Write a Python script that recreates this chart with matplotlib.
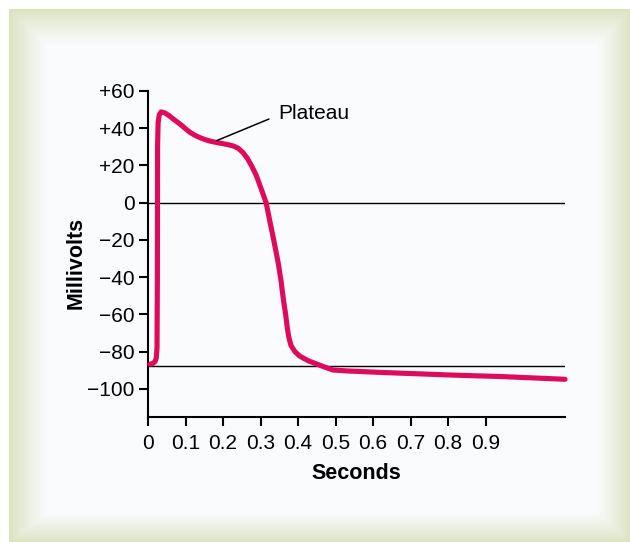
import numpy as np
import matplotlib.pyplot as plt
from matplotlib.colors import to_rgb

plt.rcParams['font.family'] = ['Liberation Sans', 'DejaVu Sans']

# ventricular action potential
seconds = [0.005, 0.013, 0.019, 0.022, 0.024, 0.025, 0.0255, 0.027, 0.030, 0.035,
           0.045, 0.056, 0.067, 0.079, 0.091, 0.102, 0.112, 0.125, 0.139, 0.152,
           0.165, 0.179, 0.192, 0.210, 0.227, 0.240, 0.253, 0.265, 0.277, 0.289,
           0.299, 0.307, 0.315, 0.325, 0.336, 0.347, 0.355, 0.361, 0.367, 0.371,
           0.375, 0.381, 0.392, 0.405, 0.427, 0.451, 0.472, 0.493, 0.530, 0.565,
           0.620, 0.672, 0.740, 0.805, 0.870, 0.939, 1.020, 1.112]
millivolts = [-86.8, -86.4, -85.3, -83.5, -78.0, -40.0, 30.0, 43.0, 47.2, 48.8,
              48.2, 46.8, 45.0, 43.2, 41.3, 39.4, 37.8, 36.2, 34.9, 33.9,
              33.1, 32.5, 32.0, 31.3, 30.5, 29.3, 27.0, 23.8, 19.5, 14.5,
              9.0, 4.5, 0.0, -10.0, -20.8, -32.1, -42.3, -52.0, -60.0, -66.5,
              -71.8, -76.6, -80.1, -82.5, -84.9, -86.8, -88.4, -89.9, -90.4, -90.7,
              -91.2, -91.6, -92.1, -92.6, -93.0, -93.4, -94.1, -94.9]

xticks = [0, 0.1, 0.2, 0.3, 0.4, 0.5, 0.6, 0.7, 0.8, 0.9]
xticklabels = ['0', '0.1', '0.2', '0.3', '0.4', '0.5', '0.6', '0.7', '0.8', '0.9']
yticks = [60, 40, 20, 0, -20, -40, -60, -80, -100]
yticklabels = ['+60', '+40', '+20', '0', '\u221220', '\u221240', '\u221260', '\u221280', '\u2212100']
reference_levels = [0, -88]

W, H = 630, 542
fig = plt.figure(figsize=(W / 100, H / 100), dpi=100)

# bevelled green frame around a near-white panel
yy, xx = np.mgrid[0:H, 0:W].astype(float)
t = np.minimum.reduce([(xx - 9) / 38, (yy - 9) / 36, (W - xx) / 34, (H - yy) / 30])
t = np.clip(t, 0, 1) ** 0.85
edge = np.array(to_rgb('#dae2c0'))
inner = np.array(to_rgb('#fafbfd'))
bg = edge[None, None, :] * (1 - t[..., None]) + inner[None, None, :] * t[..., None]
bg[(xx < 9) | (yy < 9)] = 1.0
bax = fig.add_axes([0, 0, 1, 1], zorder=-1)
bax.imshow(bg, aspect='auto', interpolation='bilinear')
bax.axis('off')

ax = fig.add_axes([148 / W, 1 - 416.7 / H, 417 / W, 325.7 / H])
ax.set_facecolor('none')

for lvl in reference_levels:
    ax.axhline(lvl, color='black', lw=1.0, zorder=1)

ax.plot(seconds, millivolts, color='#de0a5c', lw=3.7, solid_joinstyle='round',
        solid_capstyle='round', zorder=3, clip_on=False)

ax.annotate('Plateau', xy=(0.184, 33.4), xytext=(0.347, 48), fontsize=15,
            ha='left', va='center',
            arrowprops=dict(arrowstyle='-', color='black', lw=1.1,
                            shrinkA=5, shrinkB=0, relpos=(0, 0.4)))

ax.set_xlim(0, 1.112)
ax.set_ylim(-115, 60)
ax.set_xticks(xticks)
ax.set_xticklabels(xticklabels)
ax.set_yticks(yticks)
ax.set_yticklabels(yticklabels)
ax.tick_params(axis='both', direction='out', length=6.8, width=1.5, labelsize=15,
               color='black')
ax.tick_params(axis='x', pad=6)
ax.tick_params(axis='y', pad=3)

for side in ['top', 'right']:
    ax.spines[side].set_visible(False)
for side in ['left', 'bottom']:
    ax.spines[side].set_linewidth(1.5)

ax.set_xlabel('Seconds', fontsize=15.5, fontweight='bold', labelpad=7)
ax.set_ylabel('Millivolts', fontsize=15.5, fontweight='bold')
ax.yaxis.set_label_coords(-0.148, 0.472)

fig.savefig('out.png', dpi=100)
